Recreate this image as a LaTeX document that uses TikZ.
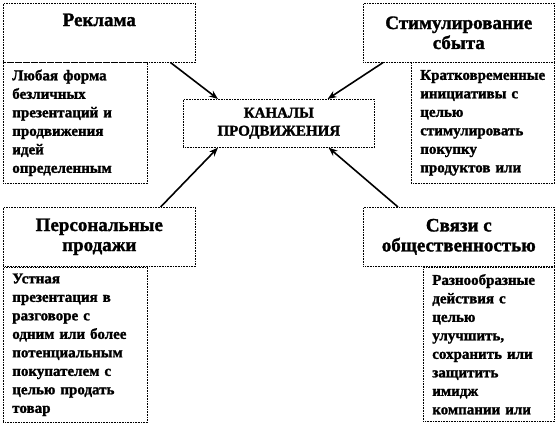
\documentclass[tikz,border=0pt]{standalone}
\usepackage{fontspec}
\setmainfont{Liberation Serif}[BoldFeatures={FakeBold=1.5}]
\usetikzlibrary{arrows.meta}

\begin{document}
\begin{tikzpicture}[
    x=1pt,y=-1pt,
    blok/.style={draw,densely dotted,line width=0.6pt,anchor=north west,
      minimum width=192pt,minimum height=59pt,align=center,inner sep=2pt,
      font=\fontsize{19}{20}\selectfont\bfseries},
    opis/.style={draw,densely dotted,line width=0.6pt,anchor=north west,
      align=left,inner xsep=9pt,inner ysep=3pt,
      font=\fontsize{15}{18.5}\selectfont\bfseries},
    centr/.style={draw,densely dotted,line width=0.6pt,anchor=north west,
      minimum width=191pt,minimum height=48pt,align=center,
      font=\fontsize{15}{18}\selectfont\bfseries},
    strelka/.style={line width=1.6pt,-{Stealth[length=9pt,width=7pt]}}]

  \useasboundingbox (0,0) rectangle (558,426);

  %% ============================ centre =====================================
  \node[centr] (kanaly) at (183,99) {КАНАЛЫ\\ПРОДВИЖЕНИЯ};

  %% ============================ top row ====================================
  \node[blok] (reklama) at (3,3) {Реклама\\\strut};
  \node[opis,text width=126pt,minimum height=121pt] (reklamaTxt) at (3,62)
    {Любая форма\\безличных\\презентаций и\\продвижения\\идей\\определенным};

  \node[blok,minimum width=191pt] (stimul) at (363,3) {Стимулирование\\сбыта};
  \node[opis,text width=125pt,minimum height=121pt] (stimulTxt) at (411,62)
    {Кратковременные\\инициативы с\\целью\\стимулировать\\покупку\\продуктов или};

  %% ============================ bottom row =================================
  \node[blok] (prodazhi) at (3,207) {Персональные\\продажи};
  \node[opis,text width=126pt,minimum height=155pt] (prodazhiTxt) at (3,267)
    {Устная\\презентация в\\разговоре с\\одним или более\\потенциальным\\покупателем с\\целью продать\\товар};

  \node[blok,minimum width=191pt] (svyazi) at (363,207) {Связи с\\общественностью};
  \node[opis,text width=113pt,minimum height=154pt] (svyaziTxt) at (423,267)
    {Разнообразные\\действия с\\целью\\улучшить,\\сохранить или\\защитить\\имидж\\компании или};

  %% ============================ arrows =====================================
  \draw[strelka] ([xshift=-25pt]reklama.south east) -- ([xshift=35pt]kanaly.north west);
  \draw[strelka] ([xshift=20pt]stimul.south west) -- ([xshift=-47pt]kanaly.north east);
  \draw[strelka] ([xshift=-35pt]prodazhi.north east) -- ([xshift=35pt]kanaly.south west);
  \draw[strelka] ([xshift=35pt]svyazi.north west) -- ([xshift=-46pt]kanaly.south east);

\end{tikzpicture}
\end{document}
